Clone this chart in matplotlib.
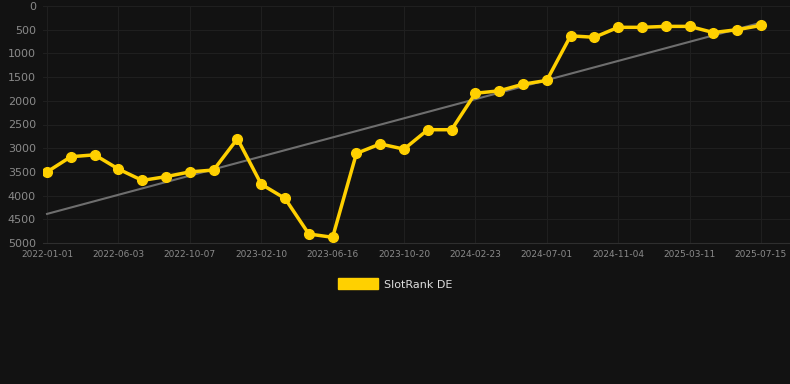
import matplotlib.pyplot as plt
import numpy as np

# Sample dates (31 points, every ~43 days); only every 3rd one is labelled
tick_labels = ['2022-01-01', '2022-06-03', '2022-10-07', '2023-02-10',
               '2023-06-16', '2023-10-20', '2024-02-23', '2024-07-01',
               '2024-11-04', '2025-03-11', '2025-07-15']

# SlotRank DE values
rank_de = [3500, 3180, 3140, 3440, 3680, 3600, 3500, 3460, 2800, 3760,
           4060, 4810, 4880, 3110, 2910, 3020, 2610, 2610, 1840, 1790,
           1650, 1570, 630, 660, 450, 450, 430, 430, 560, 500, 410]

y_ticks = [0, 500, 1000, 1500, 2000, 2500, 3000, 3500, 4000, 4500, 5000]


def main():

    bg = '#121212'
    yellow = '#FFD000'

    fig = plt.figure(figsize=(7.9, 3.84), dpi=100, facecolor=bg)
    ax = fig.add_axes([43 / 790, 1 - 243 / 384, (790 - 43) / 790, 237 / 384])
    ax.set_facecolor(bg)

    x = np.arange(len(rank_de))

    # Trend line (linear fit)
    coef = np.polyfit(x, rank_de, 1)
    ax.plot(x, np.polyval(coef, x), color='#6e6e6e', lw=1.5, zorder=2)

    # Main series
    ax.plot(x, rank_de, color=yellow, lw=2.5, marker='o', markersize=7,
            zorder=3, label='SlotRank DE')

    # Axes limits and ticks
    ax.set_xlim(-0.17, 31.22)
    ax.set_ylim(5000, 0)
    ax.set_yticks(y_ticks)
    ax.set_yticklabels([str(v) for v in y_ticks])
    ax.set_xticks(x[::3])
    ax.set_xticklabels(tick_labels)

    ax.tick_params(axis='y', colors='#8a8a8a', labelsize=8, length=0, pad=5)
    ax.tick_params(axis='x', colors='#8a8a8a', labelsize=6.5, length=0, pad=5)

    ax.grid(True, color='#1f1f1f', lw=0.8)
    for side in ['top', 'right', 'left']:
        ax.spines[side].set_visible(False)
    ax.spines['bottom'].set_color('#2e2e2e')

    # Legend below the plot
    handle = plt.Rectangle((0, 0), 1, 1, color=yellow)
    fig.legend([handle], ['SlotRank DE'], loc='center',
               bbox_to_anchor=(0.5, 1 - 284 / 384), frameon=False,
               labelcolor='#dddddd', fontsize=8, handlelength=3.6,
               handleheight=1.1, handletextpad=0.5)

    fig.savefig('out.png', dpi=100, facecolor=bg)
    plt.close()


if __name__ == "__main__":
    main()
